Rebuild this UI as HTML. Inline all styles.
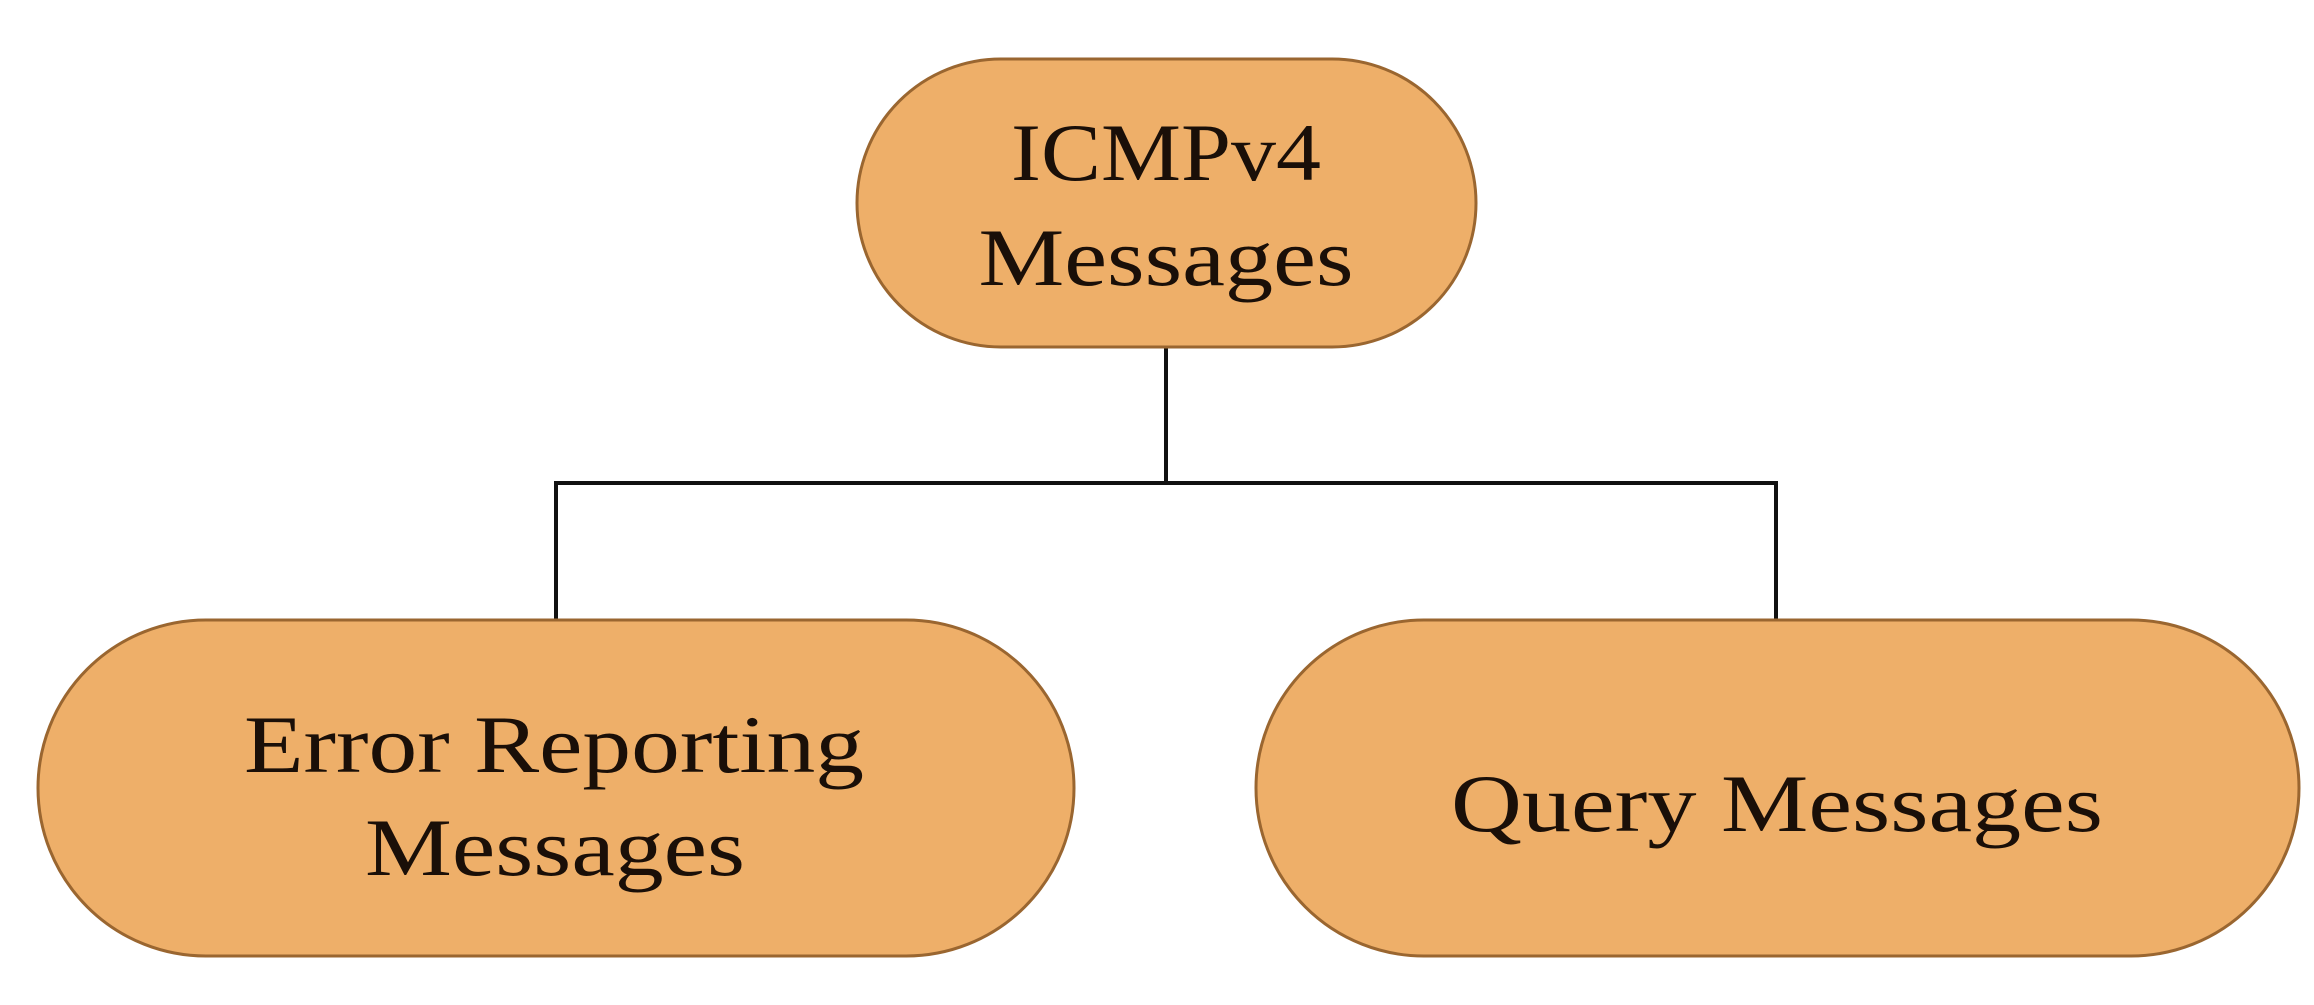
<!DOCTYPE html>
<html><head><style>html,body{margin:0;padding:0;background:#fff;}</style></head>
<body>
<svg width="2314" height="1000" viewBox="0 0 2314 1000" xmlns="http://www.w3.org/2000/svg">
<g stroke="#111" stroke-width="4" fill="none">
<line x1="1166" y1="346" x2="1166" y2="483"/>
<line x1="556" y1="483" x2="1776" y2="483"/>
<line x1="556" y1="481" x2="556" y2="622"/>
<line x1="1776" y1="481" x2="1776" y2="622"/>
</g>
<g fill="#EEAF69" stroke="#9a6630" stroke-width="3">
<rect x="857" y="59" width="619" height="288" rx="144" ry="144"/>
<rect x="38" y="620" width="1036" height="336" rx="168" ry="168"/>
<rect x="1256" y="620" width="1043" height="336" rx="168" ry="168"/>
</g>
<g font-family="Liberation Serif, serif" font-size="82" fill="#1a0f08" text-anchor="middle">
<text x="1166" y="180" textLength="310" lengthAdjust="spacingAndGlyphs">ICMPv4</text>
<text x="1166" y="285" textLength="375" lengthAdjust="spacingAndGlyphs">Messages</text>
<text x="554" y="772" textLength="620" lengthAdjust="spacingAndGlyphs">Error Reporting</text>
<text x="555" y="875" textLength="380" lengthAdjust="spacingAndGlyphs">Messages</text>
<text x="1777" y="831" textLength="652" lengthAdjust="spacingAndGlyphs">Query Messages</text>
</g>
</svg>
</body></html>
